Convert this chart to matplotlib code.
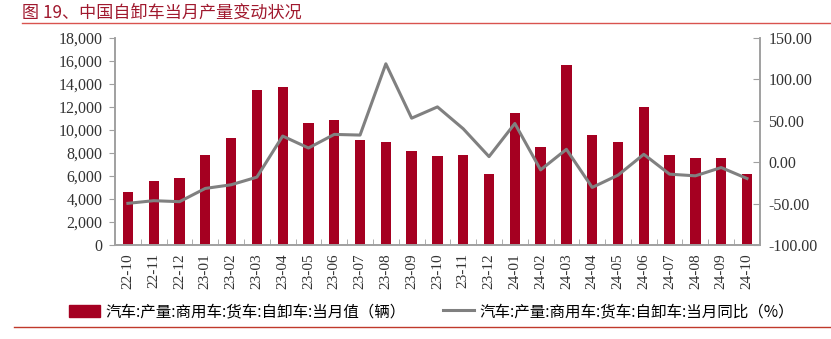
import matplotlib
matplotlib.use("Agg")
import matplotlib.pyplot as plt
import numpy as np
from matplotlib.lines import Line2D
from matplotlib.patches import Patch

months = ["22-10","22-11","22-12","23-01","23-02","23-03","23-04","23-05","23-06",
          "23-07","23-08","23-09","23-10","23-11","23-12","24-01","24-02","24-03",
          "24-04","24-05","24-06","24-07","24-08","24-09","24-10"]
output_units = [4600, 5550, 5800, 7790, 9340, 13480, 13740, 10570, 10860,
                9110, 8940, 8160, 7700, 7820, 6210, 11440, 8530, 15660,
                9600, 8990, 11980, 7820, 7530, 7610, 6210]
yoy_pct = [-49.6, -46.4, -47.6, -31.6, -27.2, -18.0, 31.6, 17.2, 33.6,
           32.8, 118.8, 53.2, 66.8, 40.4, 6.8, 46.8, -9.2, 15.6,
           -30.4, -15.6, 9.6, -14.4, -16.4, -6.4, -19.6]
left_ticks = list(range(0, 18001, 2000))
right_ticks = [-100, -50, 0, 50, 100, 150]

title = "图 19、中国自卸车当月产量变动状况"
bar_label = "汽车:产量:商用车:货车:自卸车:当月值（辆）"
line_label = "汽车:产量:商用车:货车:自卸车:当月同比（%）"

cjk = ["Noto Sans CJK SC", "DejaVu Sans"]
serif = ["Liberation Serif", "DejaVu Serif"]
bar_color = "#A50021"
line_color = "#808080"
spine_color = "#A0A0A0"
title_color = "#A0192E"

fig = plt.figure(figsize=(8.31, 3.39), dpi=100)
ax = fig.add_axes([0.1384, 0.277, 0.776, 0.611])
x = np.arange(len(months))
ax.bar(x, output_units, width=0.4, color=bar_color, zorder=2)
ax.set_xlim(-0.5, len(months) - 0.5)
ax.set_ylim(0, 18000)
ax.set_yticks(left_ticks)
ax.set_yticklabels([f"{v:,}" for v in left_ticks], fontfamily=serif, fontsize=11.5, color="#333333")
ax.set_xticks(x)
ax.set_xticklabels(months, rotation=90, fontfamily=serif, fontsize=11, color="#333333")
ax.set_xticks(np.arange(-0.5, len(months), 1), minor=True)
ax.tick_params(axis="x", which="major", length=0, pad=6)
ax.tick_params(axis="x", which="minor", direction="in", length=4, color=spine_color)
ax.tick_params(axis="y", direction="out", length=4, color=spine_color, pad=5)
ax.spines["top"].set_visible(False)
for s in ["left", "bottom", "right"]:
    ax.spines[s].set_color(spine_color)
    ax.spines[s].set_linewidth(1.2)

ax2 = ax.twinx()
ax2.plot(x, yoy_pct, color=line_color, linewidth=2.2, zorder=3)
ax2.set_ylim(-100, 150)
ax2.set_yticks(right_ticks)
ax2.set_yticklabels([f"{v:.2f}" for v in right_ticks], fontfamily=serif, fontsize=11.5, color="#333333")
ax2.tick_params(axis="y", direction="in", length=5, color=spine_color, pad=6)
ax2.spines["top"].set_visible(False)
for s in ["left", "bottom", "right"]:
    ax2.spines[s].set_color(spine_color)
    ax2.spines[s].set_linewidth(1.2)

fig.text(0.026, 0.962, title, fontfamily=cjk, fontsize=12.3, color=title_color, va="center")
fig.add_artist(Line2D([0.026, 1.0], [0.933, 0.933], color="#D9534F", linewidth=1.0, transform=fig.transFigure))
fig.add_artist(Line2D([0.017, 1.0], [0.035, 0.035], color="#C0392B", linewidth=1.0, transform=fig.transFigure))

handles = [Patch(facecolor=bar_color, edgecolor=bar_color),
           Line2D([0], [0], color=line_color, linewidth=2.2)]
leg = fig.legend(handles, [bar_label, line_label], loc="center", bbox_to_anchor=(0.519, 0.08),
                 ncol=2, frameon=False, prop={"family": cjk, "size": 11.2},
                 handlelength=2.0, handleheight=0.9, columnspacing=2.4, handletextpad=0.35)
fig.savefig("out.png", dpi=100)
